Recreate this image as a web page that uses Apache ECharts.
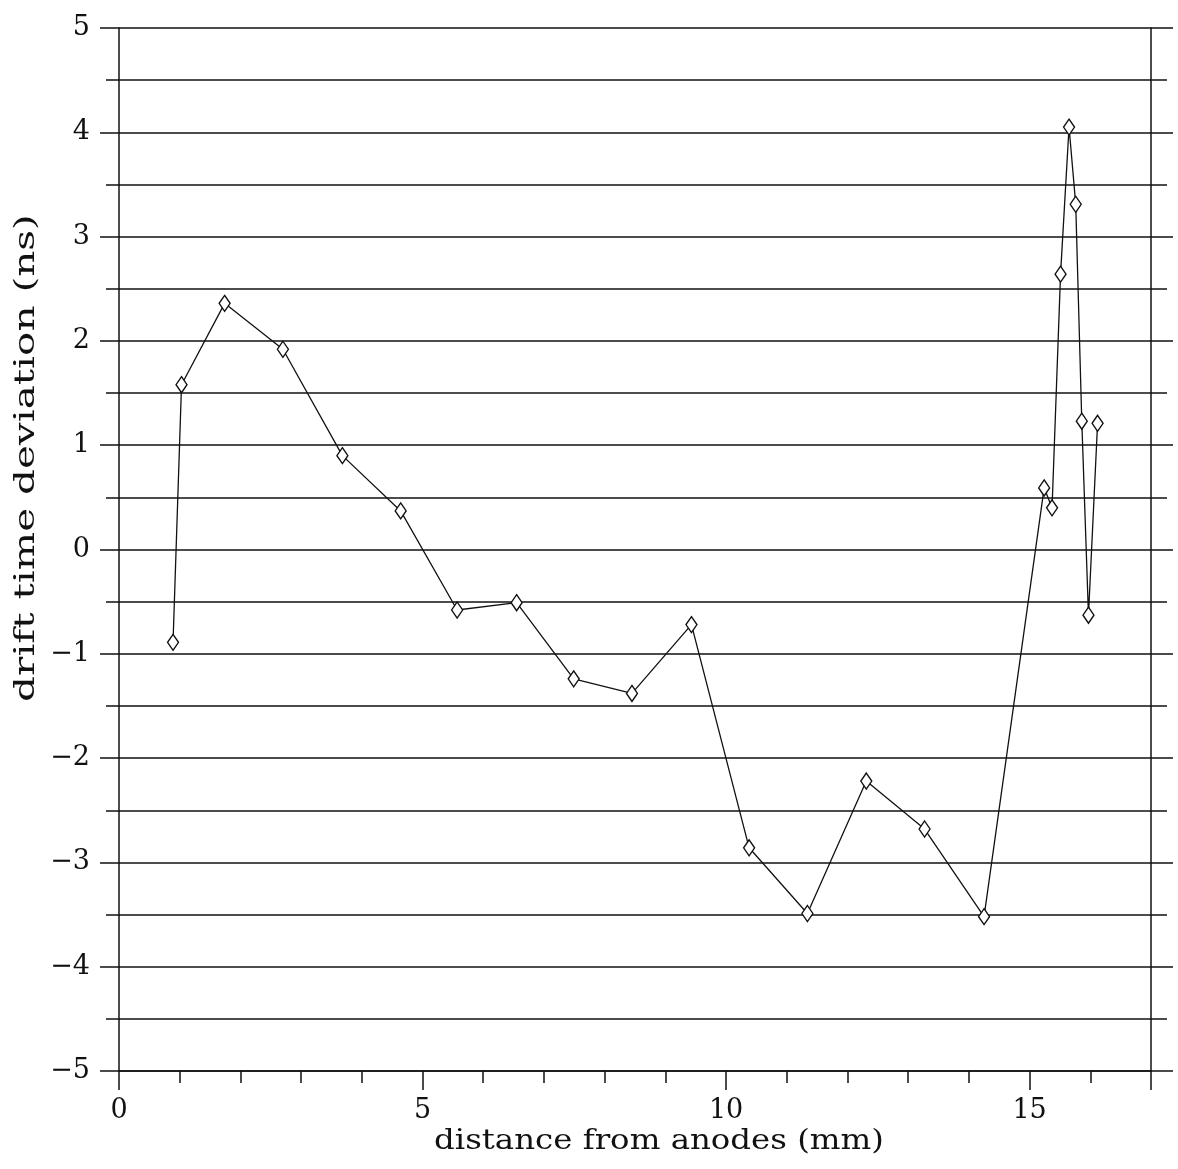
<!DOCTYPE html>
<html>
<head>
<meta charset="utf-8">
<script src="https://cdn.jsdelivr.net/npm/echarts@6/dist/echarts.min.js"></script>
<style>
html,body{margin:0;padding:0;background:#fff;}
#chart{width:1178px;height:1169px;}
</style>
</head>
<body>
<div id="chart"></div>
<script>
// distance from anodes (mm)
var distance = [0.89, 1.03, 1.74, 2.70, 3.68, 4.64, 5.57, 6.55, 7.49, 8.45, 9.43, 10.38, 11.34, 12.31, 13.27, 14.25, 15.24, 15.37, 15.51, 15.65, 15.76, 15.86, 15.97, 16.12];
// drift time deviation (ns)
var deviation = [-0.89, 1.58, 2.36, 1.92, 0.90, 0.37, -0.58, -0.51, -1.24, -1.38, -0.72, -2.86, -3.49, -2.22, -2.68, -3.52, 0.59, 0.40, 2.64, 4.05, 3.31, 1.23, -0.63, 1.21];
var xLabelValues = [0, 5, 10, 15];
var yLabelValues = [-5, -4, -3, -2, -1, 0, 1, 2, 3, 4, 5];
var xTitle = 'distance from anodes (mm)';
var yTitle = 'drift time deviation (ns)';

var points = distance.map(function (x, i) { return [x, deviation[i]]; });
var FONT = '"DejaVu Serif", "Liberation Serif", serif';
var INK = '#111';

function fmtY(v) {
  var r = Math.round(v);
  if (Math.abs(v - r) > 1e-6 || yLabelValues.indexOf(r) < 0) return '';
  return r < 0 ? '\u2212' + Math.abs(r) : String(r);
}
function fmtX(v) {
  var r = Math.round(v);
  if (Math.abs(v - r) > 1e-6 || xLabelValues.indexOf(r) < 0) return '';
  return String(r);
}

var chart = echarts.init(document.getElementById('chart'), null, {renderer: 'canvas'});
var lineStyle = {color: INK, width: 1.5};
chart.setOption({
  backgroundColor: '#fff',
  animation: false,
  grid: {left: 119, right: 27, top: 28, bottom: 98},
  xAxis: [
    {type: 'value', min: 0, max: 17, interval: 1, position: 'bottom',
     axisLine: {show: true, onZero: false, lineStyle: lineStyle},
     axisTick: {show: true, inside: false, length: 12, lineStyle: lineStyle},
     axisLabel: {show: true, margin: 26, formatter: fmtX, color: INK, fontFamily: FONT, fontSize: 27},
     splitLine: {show: false}},
    {type: 'value', min: 0, max: 17, interval: 5, position: 'bottom',
     axisLine: {show: false, onZero: false},
     axisTick: {show: true, inside: false, length: 19, lineStyle: lineStyle},
     axisLabel: {show: false}, splitLine: {show: false}}
  ],
  yAxis: [
    {type: 'value', min: -5, max: 5, interval: 0.5, position: 'left',
     axisLine: {show: true, onZero: false, lineStyle: lineStyle},
     axisTick: {show: true, inside: false, length: 13, lineStyle: lineStyle},
     axisLabel: {show: true, margin: 29, formatter: fmtY, color: INK, fontFamily: FONT, fontSize: 27},
     splitLine: {show: true, lineStyle: {color: INK, width: 1.5}}},
    {type: 'value', min: -5, max: 5, interval: 1, position: 'left',
     axisLine: {show: false, onZero: false},
     axisTick: {show: true, inside: false, length: 19, lineStyle: lineStyle},
     axisLabel: {show: false}, splitLine: {show: false}},
    {type: 'value', min: -5, max: 5, interval: 0.5, position: 'right',
     axisLine: {show: true, onZero: false, lineStyle: lineStyle},
     axisTick: {show: true, inside: false, length: 16, lineStyle: lineStyle},
     axisLabel: {show: false}, splitLine: {show: false}},
    {type: 'value', min: -5, max: 5, interval: 1, position: 'right',
     axisLine: {show: false, onZero: false},
     axisTick: {show: true, inside: false, length: 22, lineStyle: lineStyle},
     axisLabel: {show: false}, splitLine: {show: false}}
  ],
  graphic: [
    {type: 'text', x: 659, y: 1142, scaleX: 1.2,
     style: {text: xTitle, font: '27px ' + FONT, fill: INK, align: 'center', verticalAlign: 'middle'}},
    {type: 'text', x: 27, y: 458, rotation: Math.PI / 2, scaleX: 1.5,
     style: {text: yTitle, font: '27px ' + FONT, fill: INK, align: 'center', verticalAlign: 'middle'}}
  ],
  series: [{
    type: 'line',
    xAxisIndex: 0, yAxisIndex: 0,
    data: points,
    symbol: 'diamond',
    symbolSize: [11, 16],
    showAllSymbol: true,
    lineStyle: {color: INK, width: 1.3},
    itemStyle: {color: '#fff', borderColor: INK, borderWidth: 1.4},
    z: 5
  }]
});
</script>
</body>
</html>
